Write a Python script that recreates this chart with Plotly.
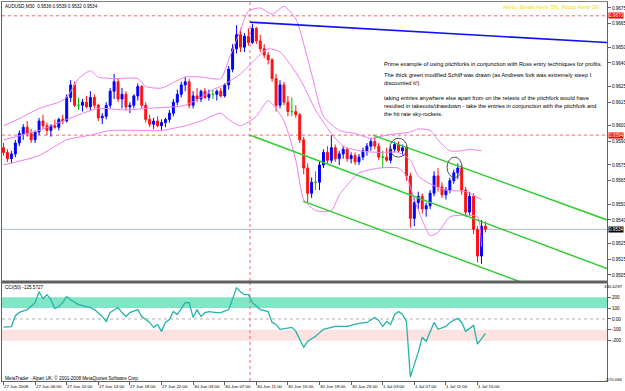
import plotly.graph_objects as go

W, H = 625, 391
def fx(px): return px / W
def fy(px): return 1 - px / H

FONT = "Liberation Sans, Arial, sans-serif"

# ---------------- data (AUDUSD, M30) ----------------
bars = list(range(123))
opens = [0.9586,0.9583,0.9579,0.9582,0.9589,0.9595,0.9599,0.9595,0.9591,0.9596,
         0.9603,0.9600,0.9597,0.9600,0.9599,0.9604,0.9603,0.9618,0.9626,0.9613,
         0.9613,0.9615,0.9612,0.9618,0.9613,0.9605,0.9606,0.9613,0.9622,0.9628,
         0.9617,0.9620,0.9612,0.9613,0.9619,0.9625,0.9613,0.9604,0.9601,0.9603,
         0.9600,0.9602,0.9604,0.9608,0.9615,0.9620,0.9626,0.9628,0.9613,0.9619,
         0.9617,0.9622,0.9618,0.9620,0.9620,0.9622,0.9619,0.9626,0.9636,0.9649,
         0.9658,0.9650,0.9657,0.9653,0.9662,0.9654,0.9649,0.9645,0.9642,0.9630,
         0.9613,0.9626,0.9615,0.9609,0.9609,0.9607,0.9591,0.9573,0.9557,0.9564,
         0.9564,0.9575,0.9583,0.9578,0.9586,0.9579,0.9582,0.9585,0.9579,0.9581,
         0.9577,0.9580,0.9584,0.9587,0.9590,0.9587,0.9580,0.9580,0.9578,0.9585,
         0.9588,0.9584,0.9586,0.9568,0.9541,0.9551,0.9555,0.9547,0.9549,0.9557,
         0.9568,0.9561,0.9556,0.9559,0.9565,0.9570,0.9573,0.9559,0.9545,0.9555,
         0.9534,0.9517,0.9536]
highs = [0.9589,0.9585,0.9584,0.9591,0.9597,0.9601,0.9603,0.9598,0.9597,0.9605,
         0.9607,0.9602,0.9601,0.9604,0.9605,0.9607,0.9620,0.9629,0.9628,0.9618,
         0.9617,0.9619,0.9622,0.9620,0.9614,0.9608,0.9615,0.9624,0.9633,0.9630,
         0.9624,0.9622,0.9615,0.9620,0.9627,0.9626,0.9615,0.9607,0.9605,0.9606,
         0.9604,0.9605,0.9610,0.9617,0.9623,0.9628,0.9631,0.9630,0.9622,0.9624,
         0.9623,0.9624,0.9623,0.9623,0.9623,0.9624,0.9627,0.9638,0.9652,0.9664,
         0.9662,0.9659,0.9662,0.9665,0.9663,0.9658,0.9652,0.9647,0.9643,0.9633,
         0.9629,0.9628,0.9619,0.9618,0.9613,0.9608,0.9593,0.9576,0.9567,0.9571,
         0.9577,0.9585,0.9587,0.9594,0.9588,0.9584,0.9587,0.9586,0.9583,0.9583,
         0.9582,0.9586,0.9589,0.9592,0.9593,0.9589,0.9584,0.9586,0.9587,0.9590,
         0.9590,0.9588,0.9587,0.9570,0.9554,0.9558,0.9557,0.9551,0.9559,0.9571,
         0.9573,0.9564,0.9561,0.9567,0.9572,0.9576,0.9575,0.9561,0.9558,0.9557,
         0.9536,0.9540,0.9539]
lows = [0.9581,0.9577,0.9576,0.9580,0.9587,0.9591,0.9593,0.9589,0.9589,0.9594,
        0.9598,0.9594,0.9593,0.9598,0.9597,0.9601,0.9602,0.9615,0.9612,0.9610,
        0.9609,0.9611,0.9610,0.9611,0.9603,0.9601,0.9604,0.9611,0.9617,0.9615,
        0.9611,0.9610,0.9608,0.9611,0.9616,0.9611,0.9602,0.9599,0.9598,0.9599,
        0.9597,0.9599,0.9602,0.9606,0.9613,0.9618,0.9622,0.9611,0.9611,0.9615,
        0.9615,0.9617,0.9616,0.9617,0.9616,0.9618,0.9618,0.9623,0.9634,0.9646,
        0.9647,0.9647,0.9651,0.9652,0.9652,0.9647,0.9643,0.9639,0.9628,0.9609,
        0.9611,0.9613,0.9606,0.9606,0.9605,0.9589,0.9569,0.9551,0.9554,0.9559,
        0.9559,0.9573,0.9576,0.9576,0.9577,0.9575,0.9579,0.9577,0.9576,0.9575,
        0.9575,0.9578,0.9581,0.9584,0.9585,0.9578,0.9573,0.9577,0.9576,0.9583,
        0.9583,0.9581,0.9565,0.9535,0.9536,0.9547,0.9544,0.9542,0.9547,0.9555,
        0.9558,0.9554,0.9553,0.9557,0.9563,0.9566,0.9556,0.9542,0.9543,0.9531,
        0.9513,0.9512,0.9532]
closes = [0.9583,0.9579,0.9582,0.9589,0.9595,0.9599,0.9595,0.9591,0.9596,0.9603,
          0.9600,0.9597,0.9600,0.9599,0.9604,0.9603,0.9618,0.9626,0.9613,0.9613,
          0.9615,0.9612,0.9618,0.9613,0.9605,0.9606,0.9613,0.9622,0.9628,0.9617,
          0.9620,0.9612,0.9613,0.9619,0.9625,0.9613,0.9604,0.9601,0.9603,0.9600,
          0.9602,0.9604,0.9608,0.9615,0.9620,0.9626,0.9628,0.9613,0.9619,0.9617,
          0.9622,0.9618,0.9620,0.9620,0.9622,0.9619,0.9626,0.9636,0.9649,0.9658,
          0.9650,0.9657,0.9653,0.9662,0.9654,0.9649,0.9645,0.9642,0.9630,0.9613,
          0.9626,0.9615,0.9609,0.9609,0.9607,0.9591,0.9573,0.9557,0.9564,0.9564,
          0.9575,0.9583,0.9578,0.9586,0.9579,0.9582,0.9585,0.9579,0.9581,0.9577,
          0.9580,0.9584,0.9587,0.9590,0.9587,0.9580,0.9580,0.9578,0.9585,0.9588,
          0.9584,0.9586,0.9568,0.9541,0.9551,0.9555,0.9547,0.9549,0.9557,0.9568,
          0.9561,0.9556,0.9559,0.9565,0.9570,0.9573,0.9559,0.9545,0.9555,0.9534,
          0.9517,0.9536,0.9534]

# Bollinger band lines, read at sample bars
bb_up_bar = [0,4,9,14,16,19,22,24,28,34,36,40,46,50,55,57,60,62,65,68,71,74,78,81,85,89,93,97,100,103,105,108,110,113,116,118,121]
bb_up_val = [0.9600,0.96045,0.9611,0.9615,0.9618,0.9630,0.9635,0.9631,0.9630,0.9630,0.9625,0.9624,0.9631,0.9631,0.9630,0.9642,0.9661,0.9673,0.9675,0.9671,0.9676,0.9668,0.9633,0.9606,0.9597,0.9595,0.9592,0.9594,0.9595,0.9596,0.9598,0.9597,0.9591,0.9584,0.9584,0.9585,0.9584]
bb_mid_bar = [0,9,16,24,31,36,46,50,53,55,60,64,67,70,75,79,83,86,90,95,100,103,105,108,112,117,121]
bb_mid_val = [0.9591,0.9597,0.9604,0.9611,0.9610,0.9611,0.9613,0.9618,0.9623,0.9625,0.9633,0.9643,0.9649,0.9647,0.9630,0.9610,0.9595,0.9587,0.9584,0.9583,0.9583,0.9578,0.9568,0.9563,0.9559,0.9558,0.9553]
bb_low_bar = [0,9,16,22,27,34,40,46,50,55,57,60,64,67,71,74,76,79,83,85,88,90,95,100,102,104,106,108,110,113,116,120,121]
bb_low_val = [0.9575,0.9581,0.9591,0.9594,0.9597,0.9597,0.9597,0.9600,0.9603,0.9608,0.9604,0.9600,0.9606,0.9616,0.9603,0.9578,0.9553,0.9546,0.9546,0.9556,0.9565,0.9570,0.9573,0.9573,0.9568,0.9553,0.9540,0.9530,0.9532,0.9542,0.9543,0.9542,0.9523]

# CCI(50), read at sample bars
cci_bar = [0,2,3,4,6,8,9,10,11,12,13,14,15,16,17,19,22,23,25,26,27,29,30,31,32,34,35,37,38,39,
           40,41,42,43,44,46,47,48,49,50,51,52,54,55,57,58,59,60,61,62,63,65,67,68,69,70,73,74,76,77,
           79,81,84,87,90,92,94,95,96,97,98,99,100,101,102,103,105,106,107,109,110,112,113,115,116,117,119,120,122]
cci_val = [-75,-70,30,60,86,150,250,186,223,177,95,114,150,205,177,132,105,86,23,-23,59,105,59,23,59,86,23,-32,-77,-50,
           -114,-32,-5,68,41,150,150,14,86,23,59,68,59,59,86,195,286,250,223,223,150,86,68,-32,-50,-95,-77,-114,-259,-205,
           -159,-95,-68,-68,-41,-32,14,-14,-68,-23,-50,41,68,41,-23,-532,-305,-168,-205,-32,-95,-68,-32,5,-32,-114,-59,-232,-132]

price_ticks = [0.9675,0.9665,0.9650,0.9640,0.9625,0.9615,0.9600,0.9590,0.9575,0.9565,0.9550,0.9540,0.9525,0.9515,0.9505]
cci_max, cci_min = 330.4297, -570.066
cci_ticks = [200, 100, 0, -100, -200]
cci_tick_text = ["200", "100", "0.00", "-100", "-200"]
cci_end_text = ["330.4297", "-570.066"]
time_bars = [0,8,16,24,32,40,48,56,64,72,80,88,96,104,112,120]
time_labels = ["27 Jun 2008","27 Jun 06:00","27 Jun 10:00","27 Jun 14:00","27 Jun 18:00","27 Jun 22:00",
               "30 Jun 03:00","30 Jun 07:00","30 Jun 11:00","30 Jun 15:00","30 Jun 19:00","30 Jun 23:00",
               "1 Jul 03:00","1 Jul 07:00","1 Jul 11:00","1 Jul 15:00"]

red_levels = [0.9670, 0.9594]
bid_level = 0.9534
vline_bar = 62.4
trend_bar = [62.4, 152.8]; trend_val = [0.9666, 0.9653]
fork_mid_bar = [62.4, 152.8]; fork_mid_val = [0.9594, 0.9509]
fork_up_bar = [93.5, 152.8]; fork_up_val = [0.9594, 0.9540]
fork_low_bar = [75.8, 152.8]; fork_low_val = [0.9552, 0.9480]
circles = [(97.8, 102.2, 0.9580, 0.9592), (112.3, 116.1, 0.9567, 0.9580)]
cci_bands = [(100, 200, '#7fe6c6'), (-200, -100, '#fde2e2')]

notes = ["Prime example of using pitchforks in conjunction with Ross entry techniques for profits.",
         "The thick green modified Schiff was drawn (as Andrews fork was extremely steep I",
         "discounted it!)",
         "taking entries anywhere else apart from on the retests of the pitchfork would have",
         "resulted in takeouts/drawdown - take the entries in conjunction with the pitchfork and",
         "the hit rate sky-rockets."]
note_y = [64, 75, 83, 98, 106, 114]

# ---------------- figure ----------------
fig = go.Figure()

groups = [([k for k in bars if closes[k] > opens[k]], '#0000ff'),
          ([k for k in bars if closes[k] < opens[k]], '#ff1010'),
          ([k for k in bars if closes[k] == opens[k]], '#00c000')]
for idx, col in groups:
    fig.add_trace(go.Candlestick(
        x=[bars[k] for k in idx], open=[opens[k] for k in idx], high=[highs[k] for k in idx],
        low=[lows[k] for k in idx], close=[closes[k] for k in idx],
        increasing=dict(line=dict(color=col, width=1), fillcolor=col),
        decreasing=dict(line=dict(color=col, width=1), fillcolor=col),
        whiskerwidth=0, xaxis='x', yaxis='y', hoverinfo='skip', showlegend=False))

for bx, by in ((bb_up_bar, bb_up_val), (bb_mid_bar, bb_mid_val), (bb_low_bar, bb_low_val)):
    fig.add_trace(go.Scatter(x=bx, y=by, mode='lines', xaxis='x', yaxis='y',
                             line=dict(color='#f07cf0', width=1, shape='spline', smoothing=0.6),
                             hoverinfo='skip', showlegend=False))

fig.add_trace(go.Scatter(x=trend_bar, y=trend_val, mode='lines', xaxis='x', yaxis='y',
                         line=dict(color='#1010ff', width=1.6), hoverinfo='skip', showlegend=False))
for bx, by in ((fork_mid_bar, fork_mid_val), (fork_up_bar, fork_up_val), (fork_low_bar, fork_low_val)):
    fig.add_trace(go.Scatter(x=bx, y=by, mode='lines', xaxis='x', yaxis='y',
                             line=dict(color='#33cc33', width=1.5), hoverinfo='skip', showlegend=False))

fig.add_trace(go.Scatter(x=cci_bar, y=cci_val, mode='lines', xaxis='x2', yaxis='y2',
                         line=dict(color='#26b3a8', width=1.3), hoverinfo='skip', showlegend=False))

X0, X1 = fx(2), fx(607)
XR = [-0.38, 152.78]
shapes = []
for lo, hi, col in cci_bands:
    shapes.append(dict(type='rect', xref='paper', x0=X0, x1=X1, yref='y2', y0=lo, y1=hi,
                       fillcolor=col, line=dict(width=0), layer='below'))
shapes.append(dict(type='line', xref='paper', x0=X0, x1=X1, yref='y2', y0=0, y1=0,
                   line=dict(color='#b0b0b0', width=1, dash='dot'), layer='below'))
for lv in red_levels:
    shapes.append(dict(type='line', xref='paper', x0=X0, x1=X1, yref='y', y0=lv, y1=lv,
                       line=dict(color='#ff6060', width=1, dash='dot'), layer='below'))
shapes.append(dict(type='line', xref='paper', x0=X0, x1=X1, yref='y', y0=bid_level, y1=bid_level,
                   line=dict(color='#a8bcd8', width=1), layer='below'))
shapes.append(dict(type='line', xref='x', x0=vline_bar, x1=vline_bar, yref='paper', y0=fy(281), y1=fy(2),
                   line=dict(color='#ff6060', width=1, dash='dot'), layer='below'))
shapes.append(dict(type='line', xref='x2', x0=vline_bar, x1=vline_bar, yref='paper', y0=fy(381), y1=fy(283),
                   line=dict(color='#ff6060', width=1, dash='dot'), layer='below'))
for c in circles:
    shapes.append(dict(type='circle', xref='x', yref='y', x0=c[0], x1=c[1], y0=c[2], y1=c[3],
                       line=dict(color='#505050', width=1)))
shapes.append(dict(type='rect', xref='paper', yref='paper', x0=X0, x1=X1, y0=fy(283.5), y1=fy(280.5),
                   fillcolor='#606060', line=dict(width=0)))

ann = []
ann.append(dict(text="AUDUSD,M30  0.9536 0.9539 0.9532 0.9534", xref='paper', yref='paper',
                x=fx(3), y=fy(6), xanchor='left', yanchor='middle', showarrow=False,
                font=dict(size=4.6, color='black')))
ann.append(dict(text="Alerts:  Emails Alerts ON,  Popup Alerts ON", xref='paper', yref='paper',
                x=fx(602), y=fy(7), xanchor='right', yanchor='middle', showarrow=False,
                font=dict(size=5, color='#f0e000')))
for t, yy in zip(notes, note_y):
    ann.append(dict(text=t, xref='paper', yref='paper', x=fx(382), y=fy(yy), xanchor='left',
                    yanchor='middle', showarrow=False, font=dict(size=5.7, color='black')))
ann.append(dict(text="CCI(50) -125.5727", xref='paper', yref='paper', x=fx(3), y=fy(287),
                xanchor='left', yanchor='middle', showarrow=False, font=dict(size=4.6, color='black')))
ann.append(dict(text="MetaTrader - Alpari UK, © 2001-2008 MetaQuotes Software Corp.", xref='paper', yref='paper',
                x=fx(3), y=fy(378), xanchor='left', yanchor='middle', showarrow=False,
                font=dict(size=4.6, color='black')))
for b, t in zip(time_bars, time_labels):
    ann.append(dict(text=t, xref='x2', yref='paper', x=b, y=fy(386), xanchor='left', yanchor='middle',
                    xshift=-1.5, showarrow=False, font=dict(size=4.4, color='black')))
for lv, bg in ((red_levels[0], '#ff0000'), (red_levels[1], '#ff0000'), (bid_level, '#000000')):
    ann.append(dict(text=f"{lv:.4f}", xref='paper', yref='y', x=fx(608), y=lv, xanchor='left',
                    yanchor='middle', showarrow=False, bgcolor=bg, borderpad=0,
                    font=dict(size=4.6, color='white')))
for t, yy in zip(cci_end_text, (286, 379)):
    ann.append(dict(text=t, xref='paper', yref='paper', x=fx(624.5), y=fy(yy), xanchor='right',
                    yanchor='middle', showarrow=False, font=dict(size=4.3, color='black')))

fig.update_layout(
    width=W, height=H, autosize=False, margin=dict(l=0, r=0, t=0, b=0),
    paper_bgcolor='white', plot_bgcolor='white', showlegend=False,
    font=dict(family=FONT, size=5, color='black'),
    shapes=shapes, annotations=ann,
    xaxis=dict(domain=[X0, X1], range=XR, anchor='y', showticklabels=False, ticks='',
               showgrid=False, zeroline=False, showline=True, linecolor='#808080', mirror=True,
               rangeslider=dict(visible=False), fixedrange=True),
    yaxis=dict(domain=[fy(281), fy(2)], range=[0.95011, 0.96788], side='right', anchor='x',
               tickvals=price_ticks, ticktext=[f"{v:.4f}" for v in price_ticks], ticks='outside',
               ticklen=3, tickcolor='#606060', tickfont=dict(size=4.6), showgrid=False, zeroline=False,
               showline=True, linecolor='#606060', mirror=True, automargin=False),
    xaxis2=dict(domain=[X0, X1], range=XR, anchor='y2', tickvals=time_bars, showticklabels=False,
                ticks='outside', ticklen=3, tickcolor='#606060', showgrid=False, zeroline=False,
                showline=True, linecolor='#606060', mirror=True, rangeslider=dict(visible=False)),
    yaxis2=dict(domain=[fy(381), fy(283)], range=[cci_min, cci_max], side='right', anchor='x2',
                tickvals=cci_ticks, ticktext=cci_tick_text, ticks='outside', ticklen=3,
                tickcolor='#606060', tickfont=dict(size=4.6), showgrid=False, zeroline=False,
                showline=True, linecolor='#606060', mirror=True, automargin=False),
)

fig.write_html("out.html")
